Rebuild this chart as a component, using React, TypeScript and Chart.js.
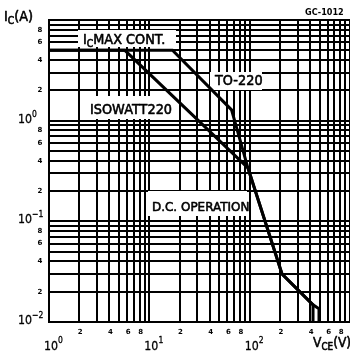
import React, { useEffect, useRef } from 'react';
import { Chart, registerables } from 'chart.js';

Chart.register(...registerables);

// ---- data ----
const isowattV = [1, 5.7, 96, 210, 428, 428];
const isowattI = [5, 5, 0.34, 0.03, 0.0148, 0.01];
const to220V = [1, 17, 66, 96, 210, 428, 491, 491];
const to220I = [5, 5, 1.28, 0.34, 0.03, 0.0148, 0.0135, 0.01];

// ---- axes ----
const xDecades = [1, 10, 100, 1000];
const yDecades = [0.01, 0.1, 1, 10];
const gridMantissas = [1, 2, 3, 4, 5, 6, 7, 8, 9];
const minorLabelMantissas = [2, 4, 6, 8];
const xDecadeValues = [1, 10, 100];
const xDecadeExps = ['0', '1', '2'];
const yDecadeValues = [1, 0.1, 0.01];
const yDecadeExps = ['0', '\u22121', '\u22122'];

const FONT = "'DejaVu Sans', sans-serif";

function buildTicks(decades: number[]) {
  const out: { value: number }[] = [];
  for (let i = 0; i < decades.length - 1; i++) {
    for (const m of gridMantissas) out.push({ value: m * decades[i] });
  }
  out.push({ value: decades[decades.length - 1] });
  return out;
}

type Part = [string, number, number];
function drawRich(ctx: CanvasRenderingContext2D, x: number, y: number, parts: Part[], weight = 'normal', sx = 0.92, stroke = 0.6) {
  ctx.save();
  ctx.translate(x, y);
  ctx.scale(sx, 1);
  let cx = 0;
  ctx.textAlign = 'left';
  ctx.textBaseline = 'alphabetic';
  ctx.strokeStyle = '#000';
  ctx.lineWidth = stroke;
  ctx.lineJoin = 'round';
  for (const [t, size, dy] of parts) {
    ctx.font = `${weight} ${size}px ${FONT}`;
    ctx.fillText(t, cx, dy);
    if (stroke > 0) ctx.strokeText(t, cx, dy);
    cx += ctx.measureText(t).width;
  }
  ctx.restore();
}

const boxes = [
  { box: [78, 30, 98, 17], x: 83, y: 44, parts: [['I', 14, 0], ['C', 10, 3], ['MAX CONT.', 14, 0]] as Part[] },
  { box: [210, 72, 52, 18], x: 215, y: 85, parts: [['TO-220', 14, 0]] as Part[] },
  { box: [84, 96, 88, 23], x: 90, y: 114, parts: [['ISOWATT220', 14, 0]] as Part[] },
  { box: [148, 191, 99, 25], x: 152, y: 211, parts: [['D.C. OPERATION', 13, 0]] as Part[] },
];

const annotate = {
  id: 'annotate',
  beforeDatasetsDraw(chart: any) {
    const ctx: CanvasRenderingContext2D = chart.ctx;
    ctx.save();
    for (const b of boxes) {
      ctx.fillStyle = '#fff';
      ctx.fillRect(b.box[0], b.box[1], b.box[2], b.box[3]);
      ctx.fillStyle = '#000';
      drawRich(ctx, b.x, b.y, b.parts);
    }
    ctx.restore();
  },
  afterDraw(chart: any) {
    const ctx: CanvasRenderingContext2D = chart.ctx;
    const xs = chart.scales.x;
    const ys = chart.scales.y;
    ctx.save();
    ctx.fillStyle = '#000';
    // minor labels
    ctx.font = `bold 7px ${FONT}`;
    ctx.textAlign = 'center';
    ctx.textBaseline = 'middle';
    for (const d of xDecadeValues) {
      for (const m of minorLabelMantissas) {
        ctx.fillText(String(m), xs.getPixelForValue(m * d) + 1, 332);
      }
    }
    for (const d of yDecadeValues) {
      for (const m of minorLabelMantissas) {
        ctx.fillText(String(m), 40, ys.getPixelForValue(m * d));
      }
    }
    // decade labels x
    xDecadeValues.forEach((v, i) => {
      const px = xs.getPixelForValue(v);
      drawRich(ctx, px - 5, 350, [['10', 13, 0], [xDecadeExps[i], 9, -7]], 'normal', 0.85, 0.3);
    });
    // decade labels y
    yDecadeValues.forEach((v, i) => {
      const py = ys.getPixelForValue(v);
      drawRich(ctx, 18, py + 2, [['10', 13, 0], [yDecadeExps[i], 9, -6]], 'normal', 0.85, 0.3);
    });
    // axis titles
    drawRich(ctx, 4, 21, [['I', 14, 0], ['C', 10, 3], ['(A)', 14, 0]]);
    drawRich(ctx, 313, 347, [['V', 14, 0], ['CE', 10, 3], ['(V)', 14, 0]], 'normal', 0.88);
    drawRich(ctx, 305, 15, [['GC-1012', 9, 0]], 'bold', 0.9, 0);
    ctx.restore();
  },
};

export default function App() {
  const ref = useRef<HTMLCanvasElement>(null);
  useEffect(() => {
    document.body.style.margin = '0';
    const gridOpts = { color: '#000', lineWidth: 2, drawTicks: false, tickLength: 0 };
    const chart = new Chart(ref.current!, {
      type: 'scatter',
      data: {
        datasets: [
          {
            label: 'ISOWATT220',
            data: isowattV.map((v, i) => ({ x: v, y: isowattI[i] })),
            showLine: true,
            borderColor: '#000',
            borderWidth: 3,
            pointRadius: 0,
            tension: 0,
          },
          {
            label: 'TO-220',
            data: to220V.map((v, i) => ({ x: v, y: to220I[i] })),
            showLine: true,
            borderColor: '#000',
            borderWidth: 3,
            pointRadius: 0,
            tension: 0,
          },
        ],
      },
      options: {
        responsive: false,
        animation: false,
        layout: { padding: { top: 20, left: 0, right: 0, bottom: 0 } },
        plugins: { legend: { display: false }, tooltip: { enabled: false } },
        scales: {
          x: {
            type: 'logarithmic',
            min: 1,
            max: 1000,
            grid: gridOpts,
            border: { display: true, color: '#000', width: 2 },
            ticks: { display: false },
            afterBuildTicks: (s: any) => { s.ticks = buildTicks(xDecades); },
            afterFit: (s: any) => { s.height = 30; },
          },
          y: {
            type: 'logarithmic',
            min: 0.01,
            max: 10,
            grid: gridOpts,
            border: { display: true, color: '#000', width: 2 },
            ticks: { display: false },
            afterBuildTicks: (s: any) => { s.ticks = buildTicks(yDecades); },
            afterFit: (s: any) => { s.width = 49; },
          },
        },
      } as any,
      plugins: [annotate],
    });
    return () => chart.destroy();
  }, []);
  return <canvas ref={ref} width={350} height={352} style={{ display: 'block' }} />;
}
